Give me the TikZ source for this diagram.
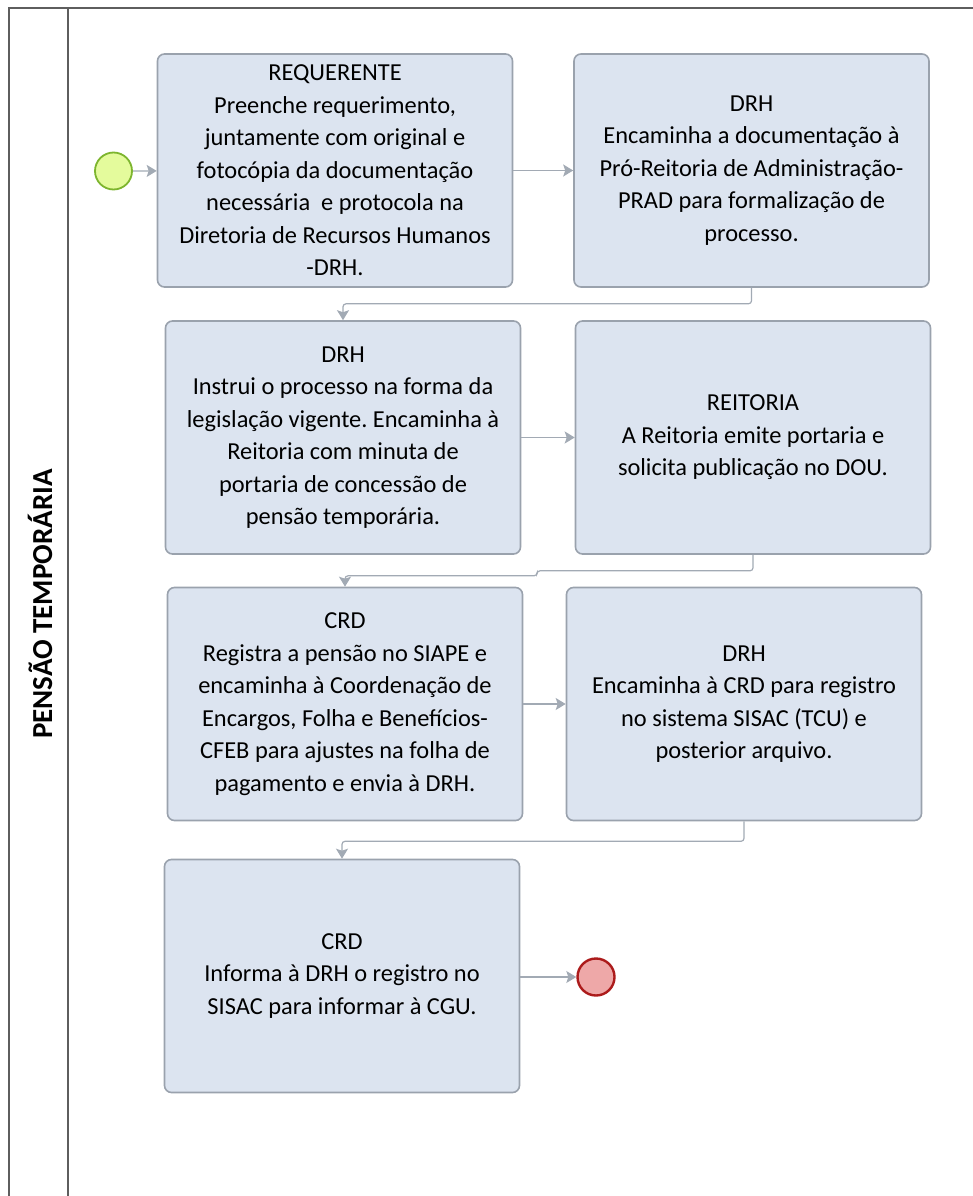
\documentclass[tikz,border=0pt]{standalone}
\usepackage{fontspec}
\setmainfont{Carlito}
\usetikzlibrary{arrows.meta}
\definecolor{boxfill}{HTML}{DCE4F0}
\definecolor{boxline}{HTML}{9AA2AD}
\definecolor{flowline}{HTML}{A2AAB4}
\definecolor{startfill}{HTML}{E4FB9C}
\definecolor{startline}{HTML}{7DB52E}
\definecolor{endfill}{HTML}{EEA8A8}
\definecolor{endline}{HTML}{AC1B1B}
\definecolor{laneline}{HTML}{5E5E5E}
\tikzset{x=1pt, y=-1pt, % pixel grid, y grows downward
task/.style={ % Sets the properties for each activity
draw=boxline,
fill=boxfill,
line width=1.6pt,
rounded corners=7pt,
minimum width=355pt,
minimum height=233pt,
inner sep=0pt,
align=center,
font=\fontsize{24.4}{32.5}\selectfont},
startevent/.style={circle, draw=startline, fill=startfill, line width=1.8pt,
minimum size=37pt, inner sep=0pt},
endevent/.style={circle, draw=endline, fill=endfill, line width=2.4pt,
minimum size=37pt, inner sep=0pt},
flow/.style={ % Sets the properties for each sequence flow
draw=flowline,
line width=1.2pt,
rounded corners=3pt,
-{Stealth[length=10pt, width=12pt, inset=2pt]}}}

\begin{document}
\frenchspacing
\begin{tikzpicture}
				\useasboundingbox (0,0) rectangle (973,1196);
				% pool and lane
				\draw[laneline, line width=1.6pt] (9,1196) -- (9,8) -- (973,8);
				\draw[laneline, line width=1.6pt] (68,8) -- (68,1196);
				\node[rotate=90, font=\fontsize{29}{32}\selectfont\bfseries] (lane) at (40,604) {PENSÃO TEMPORÁRIA};

				\node[startevent] (ini) at (113.5,171) {};
				\node[task] (req) at (335,170.5) {REQUERENTE\\Preenche requerimento,\\juntamente com original e\\fotocópia da documentação\\necessária\ \ e protocola na\\Diretoria de Recursos Humanos\\-DRH.};
				\node[task] (prad) at (751.5,170.5) {DRH\\Encaminha a documentação à\\Pró-Reitoria de Administração-\\PRAD para formalização de\\processo.};
				\node[task] (instr) at (343,437.5) {DRH\\Instrui o processo na forma da\\legislação vigente. Encaminha à\\Reitoria com minuta de\\portaria de concessão de\\pensão temporária.};
				\node[task] (reit) at (753,437.5) {REITORIA\\A Reitoria emite portaria e\\solicita publicação no DOU.};
				\node[task] (siape) at (345,704) {CRD\\Registra a pensão no SIAPE e\\encaminha à Coordenação de\\Encargos, Folha e Benefícios-\\CFEB para ajustes na folha de\\pagamento e envia à DRH.};
				\node[task] (sisac) at (744,704) {DRH\\Encaminha à CRD para registro\\no sistema SISAC (TCU) e\\posterior arquivo.};
				\node[task] (cgu) at (342,976) {CRD\\Informa à DRH o registro no\\SISAC para informar à CGU.};
				\node[endevent] (fim) at (596,977) {};

				\draw[flow] (ini) -- (req);
				\draw[flow] (req) -- (prad);
				\draw[flow] (prad.south) -- ++(0,16) -| (instr.north);
				\draw[flow] (instr) -- (reit);
				\draw[flow] (reit.south) -- ++(0,16) -- ++(-216,0) -- ++(0,5) -| (siape.north);
				\draw[flow] (siape) -- (sisac);
				\draw[flow] (sisac.south) -- ++(0,20) -| (cgu.north);
				\draw[flow] (cgu.east |- fim) -- (fim);
			\end{tikzpicture}
\end{document}
